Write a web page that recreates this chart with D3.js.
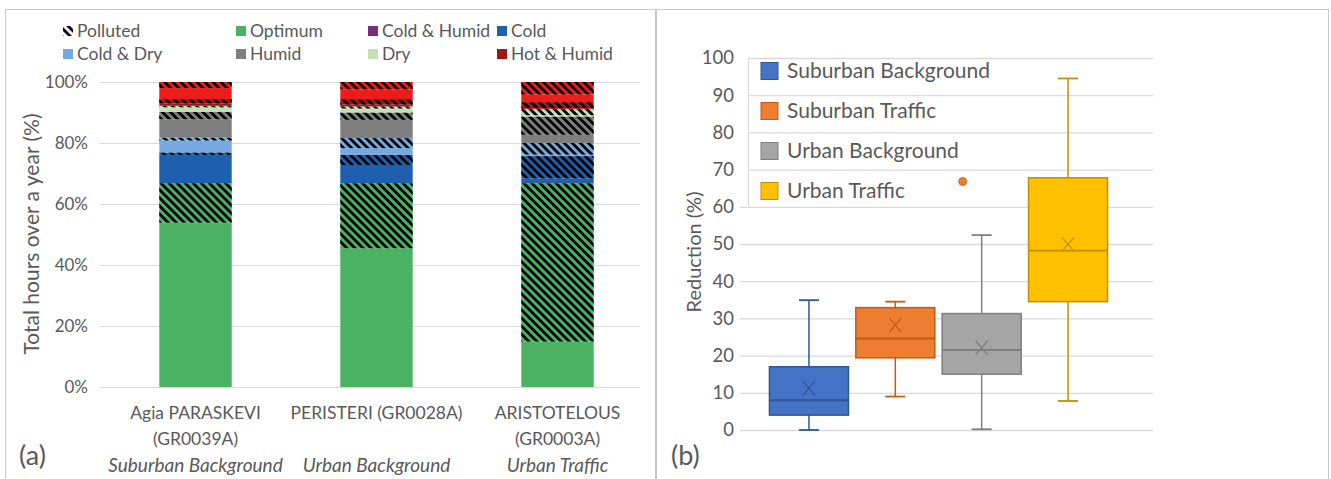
<!DOCTYPE html>
<html>
<head>
<meta charset="utf-8">
<script src="https://cdn.jsdelivr.net/npm/d3@7"></script>
<style>
	body { margin: 0; background: #fff; }
	svg text { font-family: Lato, "Open Sans", sans-serif; fill: #595959; }
</style>
</head>
<body>
<svg id="fig" width="1331" height="479"></svg>
<script>
// ---- (a) stacked bars: share of hours per comfort class (%)
const stationLines = [["Agia PARASKEVI", "(GR0039A)"], ["PERISTERI (GR0028A)"], ["ARISTOTELOUS", "(GR0003A)"]];
const stationTypes = ["Suburban Background", "Urban Background", "Urban Traffic"];
const pctTicks = [0, 20, 40, 60, 80, 100];

// bottom to top, "P" = polluted hours of that class
const stackKeys = ["Optimum", "Optimum P", "Cold", "Cold P", "Cold & Dry", "Cold & Dry P", "Humid", "Humid P",
	"Dry", "Dry P", "Hot & Humid", "Hot & Humid P", "Hot", "Hot P"];
const optimum = [53.9, 45.5, 14.9];
const optimumP = [12.9, 21.3, 51.9];
const cold = [9.3, 6.0, 1.6];
const coldP = [0.8, 3.3, 7.3];
const coldDry = [3.9, 2.2, 0.5];
const coldDryP = [1.0, 3.3, 3.8];
const humid = [6.0, 6.0, 2.7];
const humidP = [2.4, 2.4, 6.0];
const dry = [1.5, 1.3, 0.4];
const dryP = [0.5, 0.7, 2.0];
const hotHumid = [0.8, 0.6, 0.3];
const hotHumidP = [1.4, 1.8, 2.0];
const hot = [3.6, 3.2, 2.5];
const hotP = [2.0, 2.4, 4.1];

const legendA = ["Polluted", "Optimum", "Cold & Humid", "Cold", "Cold & Dry", "Humid", "Dry", "Hot & Humid"];

// ---- (b) box plots of reduction (%)
const boxSeries = ["Suburban Background", "Suburban Traffic", "Urban Background", "Urban Traffic"];
const boxMin = [0, 9.0, 0.2, 7.8];
const boxQ1 = [4.0, 19.4, 15.0, 34.5];
const boxMedian = [8.0, 24.6, 21.5, 48.2];
const boxQ3 = [17.0, 32.9, 31.3, 67.8];
const boxMax = [34.9, 34.5, 52.4, 94.5];
const boxMean = [11.2, 28.2, 22.1, 49.9];
const outlierSeries = ["Suburban Traffic"];
const outlierValues = [66.8];
const reductionTicks = d3.range(0, 101, 10);

const classColor = {
	"Optimum": "#4cb263", "Cold & Humid": "#7b2c7d", "Cold": "#1f5fb0", "Cold & Dry": "#74aadf",
	"Humid": "#7f7f7f", "Dry": "#c6e0b4", "Hot & Humid": "#a51616", "Hot": "#ee1b1b"
};
const boxFill = { "Suburban Background": "#4472c4", "Suburban Traffic": "#ed7d31", "Urban Background": "#a5a5a5", "Urban Traffic": "#ffc000" };
const boxLine = { "Suburban Background": "#2f5597", "Suburban Traffic": "#c55a11", "Urban Background": "#7f7f7f", "Urban Traffic": "#bf9000" };

const svg = d3.select("#fig");

// hatch used for polluted hours
const defs = svg.append("defs");
const hatch = defs.append("pattern")
	.attr("id", "hatch")
	.attr("patternUnits", "userSpaceOnUse")
	.attr("width", 5.7).attr("height", 5.7)
	.attr("patternTransform", "rotate(-45)");
hatch.append("rect").attr("width", 2.8).attr("height", 5.7).attr("fill", "#000");

// panel frames
svg.append("rect").attr("x", 5.5).attr("y", 9.5).attr("width", 650).attr("height", 470)
	.attr("fill", "none").attr("stroke", "#c8c8c8");
svg.append("rect").attr("x", 656.5).attr("y", 9.5).attr("width", 672).attr("height", 470)
	.attr("fill", "none").attr("stroke", "#c8c8c8");

// ================= (a)
const gA = svg.append("g");
const xA = d3.scaleBand().domain(d3.range(stationLines.length)).range([105, 648]).paddingInner(0.6).paddingOuter(0.3);
const yA = d3.scaleLinear().domain([0, 100]).range([387, 82]);

gA.append("g")
	.attr("transform", "translate(100,0)")
	.call(d3.axisLeft(yA).tickValues(pctTicks).tickSize(-540).tickFormat(d => d + "%"))
	.call(g => g.select(".domain").remove())
	.call(g => g.selectAll("line").attr("stroke", "#d9d9d9"))
	.call(g => g.selectAll("text").attr("x", -12).attr("font-size", 17).attr("fill", "#595959")
		.style("font-family", "Lato"));

const rowsA = stationLines.map((_, i) => ({
	"Optimum": optimum[i], "Optimum P": optimumP[i], "Cold": cold[i], "Cold P": coldP[i],
	"Cold & Dry": coldDry[i], "Cold & Dry P": coldDryP[i], "Humid": humid[i], "Humid P": humidP[i],
	"Dry": dry[i], "Dry P": dryP[i], "Hot & Humid": hotHumid[i], "Hot & Humid P": hotHumidP[i],
	"Hot": hot[i], "Hot P": hotP[i], idx: i
}));
const stacked = d3.stack().keys(stackKeys)(rowsA);

const layer = gA.selectAll(".layer").data(stacked).enter().append("g").attr("class", "layer");
layer.selectAll(".seg").data(d => d.map(v => ({ key: d.key, v })))
	.enter().append("rect").attr("class", "seg")
	.attr("x", d => xA(d.v.data.idx))
	.attr("width", xA.bandwidth())
	.attr("y", d => yA(d.v[1]))
	.attr("height", d => yA(d.v[0]) - yA(d.v[1]))
	.attr("fill", d => classColor[d.key.replace(" P", "")]);
layer.filter(d => d.key.endsWith(" P")).selectAll(".hatch").data(d => d)
	.enter().append("rect").attr("class", "hatch")
	.attr("x", d => xA(d.data.idx))
	.attr("width", xA.bandwidth())
	.attr("y", d => yA(d[1]))
	.attr("height", d => yA(d[0]) - yA(d[1]))
	.attr("fill", "url(#hatch)");

// category labels
stationLines.forEach((lines, i) => {
	const cx = xA(i) + xA.bandwidth() / 2;
	lines.forEach((t, j) => {
		gA.append("text").attr("x", cx).attr("y", 419 + j * 26).attr("text-anchor", "middle")
			.attr("font-size", 17.5).text(t);
	});
	gA.append("text").attr("x", cx).attr("y", 472).attr("text-anchor", "middle")
		.attr("font-size", 19).attr("font-style", "italic").text(stationTypes[i]);
});

gA.append("text").attr("transform", "translate(39,234) rotate(-90)").attr("text-anchor", "middle")
	.attr("font-size", 21).text("Total hours over a year (%)");
gA.append("text").attr("x", 19).attr("y", 465).attr("font-size", 27).text("(a)");

// legend (a)
const legColX = [63, 236, 368, 497];
const legA = gA.selectAll(".legA").data(legendA).enter().append("g").attr("class", "legA")
	.attr("transform", (d, i) => `translate(${legColX[i % 4]},${31 + Math.floor(i / 4) * 23})`);
legA.append("rect").attr("x", 0).attr("y", -5).attr("width", 10).attr("height", 10)
	.attr("fill", d => d === "Polluted" ? "url(#hatch)" : classColor[d]);
legA.append("text").attr("x", 14).attr("y", 0).attr("dy", "0.35em").attr("font-size", 17.5).text(d => d);

// ================= (b)
const gB = svg.append("g");
const yB = d3.scaleLinear().domain([0, 100]).range([430, 58]);
const xB = d3.scaleBand().domain(boxSeries).range([766, 1111]).paddingInner(0.085).paddingOuter(0.04);
const plotL = 740, plotR = 1153, legL = 748;

gB.append("g").selectAll("line").data(reductionTicks).enter().append("line")
	.attr("x1", d => d >= 70 ? legL : plotL).attr("x2", plotR)
	.attr("y1", d => yB(d) + 0.5).attr("y2", d => yB(d) + 0.5)
	.attr("stroke", "#d9d9d9").attr("stroke-width", 1.3);
gB.append("line").attr("x1", legL + 0.5).attr("x2", legL + 0.5).attr("y1", yB(100)).attr("y2", 206)
	.attr("stroke", "#d9d9d9").attr("stroke-width", 1.3);
gB.append("g").selectAll("text").data(reductionTicks).enter().append("text")
	.attr("x", 734).attr("y", d => yB(d)).attr("dy", "0.35em").attr("text-anchor", "end")
	.attr("font-size", 18.5).text(d => d);

gB.append("text").attr("transform", "translate(701,252) rotate(-90)").attr("text-anchor", "middle")
	.attr("font-size", 20).text("Reduction (%)");
gB.append("text").attr("x", 671).attr("y", 465).attr("font-size", 27).text("(b)");

const boxes = gB.selectAll(".box").data(boxSeries.map((s, i) => ({
	s, min: boxMin[i], q1: boxQ1[i], med: boxMedian[i], q3: boxQ3[i], max: boxMax[i], mean: boxMean[i]
}))).enter().append("g").attr("class", "box");
const bw = xB.bandwidth(), cx = d => xB(d.s) + bw / 2, cap = 10;

boxes.append("line").attr("x1", cx).attr("x2", cx).attr("y1", d => yB(d.max)).attr("y2", d => yB(d.q3))
	.attr("stroke", d => boxLine[d.s]).attr("stroke-width", 1.5);
boxes.append("line").attr("x1", cx).attr("x2", cx).attr("y1", d => yB(d.q1)).attr("y2", d => yB(d.min))
	.attr("stroke", d => boxLine[d.s]).attr("stroke-width", 1.5);
boxes.append("line").attr("x1", d => cx(d) - cap).attr("x2", d => cx(d) + cap).attr("y1", d => yB(d.max)).attr("y2", d => yB(d.max))
	.attr("stroke", d => boxLine[d.s]).attr("stroke-width", 1.8);
boxes.append("line").attr("x1", d => cx(d) - cap).attr("x2", d => cx(d) + cap).attr("y1", d => yB(d.min)).attr("y2", d => yB(d.min))
	.attr("stroke", d => boxLine[d.s]).attr("stroke-width", 1.8);
boxes.append("rect").attr("x", d => xB(d.s)).attr("width", bw)
	.attr("y", d => yB(d.q3)).attr("height", d => yB(d.q1) - yB(d.q3))
	.attr("fill", d => boxFill[d.s]).attr("stroke", d => boxLine[d.s]).attr("stroke-width", 1.5);
boxes.append("line").attr("x1", d => xB(d.s)).attr("x2", d => xB(d.s) + bw).attr("y1", d => yB(d.med)).attr("y2", d => yB(d.med))
	.attr("stroke", d => boxLine[d.s]).attr("stroke-width", 1.8);
boxes.append("path")
	.attr("d", d => { const x = cx(d), y = yB(d.mean); return `M${x - 6},${y - 7}L${x + 6},${y + 7}M${x + 6},${y - 7}L${x - 6},${y + 7}`; })
	.attr("stroke", d => boxLine[d.s]).attr("stroke-width", 1.3).attr("fill", "none");

// Excel draws this outlier shifted right of its box
gB.selectAll(".outlier").data(outlierSeries.map((s, i) => ({ s, v: outlierValues[i] }))).enter()
	.append("circle").attr("class", "outlier")
	.attr("cx", d => xB(d.s) + bw / 2 + xB.step() * 0.78).attr("cy", d => yB(d.v)).attr("r", 4)
	.attr("fill", d => boxFill[d.s]).attr("stroke", d => boxLine[d.s]).attr("stroke-width", 0.8);

// legend (b)
const legB = gB.selectAll(".legB").data(boxSeries).enter().append("g").attr("class", "legB")
	.attr("transform", (d, i) => `translate(761,${71 + i * 40})`);
legB.append("rect").attr("x", 0).attr("y", -8.5).attr("width", 17).attr("height", 17)
	.attr("fill", d => boxFill[d]).attr("stroke", d => boxLine[d]).attr("stroke-width", 1);
legB.append("text").attr("x", 26).attr("y", 0).attr("dy", "0.35em").attr("font-size", 21).text(d => d);
</script>
</body>
</html>
